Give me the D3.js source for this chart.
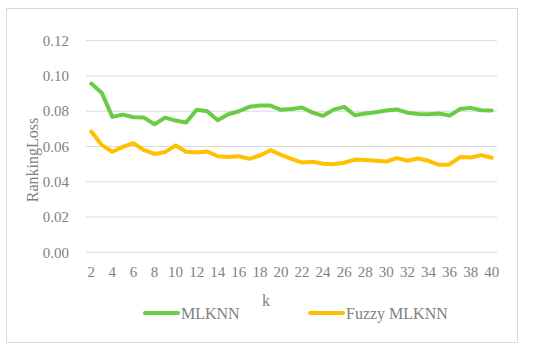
<!DOCTYPE html>
<html>
<head>
<meta charset="utf-8">
<script src="https://cdn.jsdelivr.net/npm/d3@7"></script>
<style>
  body { margin: 0; background: #fff; }
  text { font-family: "Liberation Serif", "Times New Roman", serif; fill: #7f7f7f; }
</style>
</head>
<body>
<div id="chart"></div>
<script>
const ks = d3.range(2, 41);
const mlknn = [0.0957, 0.0904, 0.0768, 0.0781, 0.0766, 0.0764, 0.0726, 0.0764, 0.0747, 0.0736,
  0.0808, 0.0800, 0.0749, 0.0783, 0.0800, 0.0825, 0.0832, 0.0832, 0.0808, 0.0813,
  0.0821, 0.0792, 0.0774, 0.0809, 0.0825, 0.0777, 0.0787, 0.0794, 0.0804, 0.0810,
  0.0792, 0.0785, 0.0783, 0.0787, 0.0775, 0.0813, 0.0819, 0.0806, 0.0804];
const fuzzy = [0.0685, 0.0608, 0.0570, 0.0598, 0.0619, 0.0579, 0.0558, 0.0568, 0.0606, 0.0570,
  0.0566, 0.0572, 0.0545, 0.0540, 0.0545, 0.0530, 0.0549, 0.0579, 0.0553, 0.0530,
  0.0509, 0.0513, 0.0502, 0.0500, 0.0508, 0.0526, 0.0523, 0.0519, 0.0515, 0.0534,
  0.0519, 0.0532, 0.0519, 0.0496, 0.0498, 0.0540, 0.0538, 0.0551, 0.0536];
const yTicks = [0, 0.02, 0.04, 0.06, 0.08, 0.10, 0.12];
const series = [
  { name: "MLKNN", values: mlknn, color: "#6acb45" },
  { name: "Fuzzy MLKNN", values: fuzzy, color: "#ffc000" }
];

const W = 550, H = 349;
const svg = d3.select("#chart").append("svg").attr("width", W).attr("height", H);

// outer frame
svg.append("rect")
  .attr("x", 6.5).attr("y", 8.5).attr("width", 511).attr("height", 334)
  .attr("fill", "#fff").attr("stroke", "#d9d9d9");

const plotL = 86, plotR = 497, plotT = 40.7, plotB = 252.3;
const x = d3.scaleBand().domain(ks).range([plotL, plotR]);
const y = d3.scaleLinear().domain([0, 0.12]).range([plotB, plotT]);

// grid
svg.append("g").selectAll("line").data(yTicks).join("line")
  .attr("x1", plotL).attr("x2", plotR)
  .attr("y1", d => y(d)).attr("y2", d => y(d))
  .attr("stroke", "#d9d9d9").attr("stroke-width", 1);

// y tick labels
svg.append("g").selectAll("text").data(yTicks).join("text")
  .attr("x", 69).attr("y", d => y(d)).attr("dy", "0.35em")
  .attr("text-anchor", "end").attr("font-size", 15)
  .text(d => d3.format(".2f")(d));

// x tick labels (every other)
svg.append("g").selectAll("text").data(ks.filter(k => k % 2 === 0)).join("text")
  .attr("x", d => x(d) + x.bandwidth() / 2).attr("y", 277)
  .attr("text-anchor", "middle").attr("font-size", 15)
  .text(d => d);

// axis titles
svg.append("text").attr("x", 266).attr("y", 306).attr("text-anchor", "middle")
  .attr("font-size", 16).text("k");
svg.append("text")
  .attr("transform", `translate(38,160) rotate(-90)`)
  .attr("text-anchor", "middle").attr("font-size", 16).text("RankingLoss");

// lines
const line = d3.line()
  .x((d, i) => x(ks[i]) + x.bandwidth() / 2)
  .y(d => y(d));
svg.append("g").selectAll("path").data(series).join("path")
  .attr("d", d => line(d.values))
  .attr("fill", "none").attr("stroke", d => d.color)
  .attr("stroke-width", 4).attr("stroke-linejoin", "round").attr("stroke-linecap", "round");

// legend
const legX = [145, 310];
const leg = svg.append("g").selectAll("g").data(series).join("g")
  .attr("transform", (d, i) => `translate(${legX[i]},313)`);
leg.append("line").attr("x1", 0).attr("x2", 33)
  .attr("stroke", d => d.color).attr("stroke-width", 4).attr("stroke-linecap", "round");
leg.append("text").attr("x", 36).attr("dy", "0.35em").attr("font-size", 16)
  .text(d => d.name);
</script>
</body>
</html>
